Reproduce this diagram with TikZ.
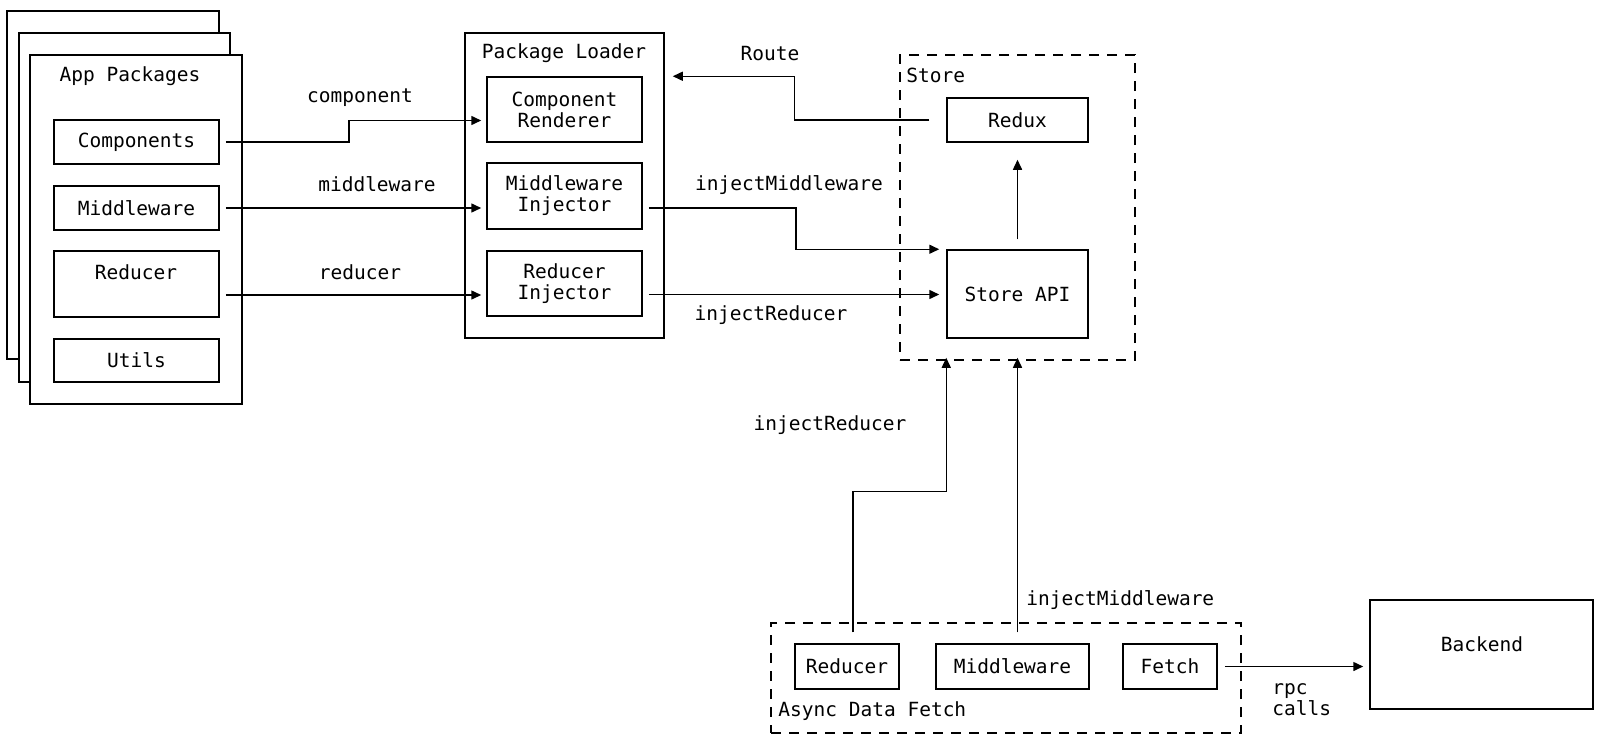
\documentclass[tikz,border=0pt]{standalone}
\usepackage{fontspec}
\setmonofont{DejaVu Sans Mono}
\usetikzlibrary{arrows.meta,calc}
\tikzset{
  box/.style={draw, line width=0.75pt, align=center, inner sep=0pt},
  group/.style={draw, line width=0.75pt, dash pattern=on 5pt off 4pt, inner sep=0pt},
  arr/.style={line width=0.75pt, -{Triangle[length=5pt,width=4.5pt]}},
  txt/.style={inner sep=0pt, align=left}
}
\begin{document}
\begin{tikzpicture}[x=0.5pt,y=-0.5pt,font=\ttfamily\fontsize{9.75}{10.5}\selectfont]
  \useasboundingbox (0,0) rectangle (1600,744);
  % app packages (stacked pages)
  \draw[line width=0.75pt,fill=white] (7,11) rectangle (219,359);
  \draw[line width=0.75pt,fill=white] (19,33) rectangle (230,382);
  \node[box,fill=white,minimum width=106pt,minimum height=174.5pt] (app) at (136,229.5) {};
  \node[txt] (apptitle) at (130,76) {App Packages};
  \node[box,minimum width=82.5pt,minimum height=22pt] (pkcomp) at (136.5,142) {Components};
  \node[box,minimum width=82.5pt,minimum height=22pt] (pkmid) at (136.5,208) {Middleware};
  \node[box,minimum width=82.5pt,minimum height=33pt] (pkred) at (136.5,284) {};
  \node[txt] (pkredtxt) at (136,272) {Reducer};
  \node[box,minimum width=82.5pt,minimum height=21.5pt] (pkutil) at (136.5,360.5) {Utils};

  % package loader
  \node[box,minimum width=99.5pt,minimum height=152.5pt] (loader) at (564.5,185.5) {};
  \node[txt] (loadertitle) at (564,53) {Package Loader};
  \node[box,minimum width=77.5pt,minimum height=32.5pt] (rend) at (564.5,109.5) {Component\\Renderer};
  \node[box,minimum width=77.5pt,minimum height=33pt] (mwinj) at (564.5,196) {Middleware\\Injector};
  \node[box,minimum width=77.5pt,minimum height=32.5pt] (rdinj) at (564.5,283.5) {Reducer\\Injector};

  % store
  \node[group,minimum width=117.5pt,minimum height=152.5pt] (store) at (1017.5,207.5) {};
  \node[txt,anchor=west] (storetitle) at (906,75) {Store};
  \node[box,minimum width=70.5pt,minimum height=22pt] (redux) at (1017.5,120) {Redux};
  \node[box,minimum width=70.5pt,minimum height=44pt] (api) at (1017.5,294) {Store API};

  % async data fetch
  \node[group,minimum width=235pt,minimum height=55pt] (async) at (1006,678) {};
  \node[txt,anchor=west] (asynctitle) at (778,711) {Async Data Fetch};
  \node[box,minimum width=52pt,minimum height=22.5pt] (asred) at (847,666.5) {Reducer};
  \node[box,minimum width=76.5pt,minimum height=22.5pt] (asmid) at (1012.5,666.5) {Middleware};
  \node[box,minimum width=47pt,minimum height=22.5pt] (fetch) at (1170,666.5) {Fetch};

  % backend
  \node[box,minimum width=111.5pt,minimum height=54.5pt] (backend) at (1481.5,654.5) {};
  \node[txt] (backendtxt) at (1482,644) {Backend};

  % connectors
  \draw[arr] ($(pkcomp.east)+(6,0)$) -- ++(123,0) |- ($(rend.west)+(-5,11)$);
  \draw[arr] ($(pkmid.east)+(6,0)$) -- ($(mwinj.west |- pkmid.east)+(-5,0)$);
  \draw[arr] ($(pkred.east)+(6,11)$) -- ($(rdinj.west)+(-5,11.5)$);
  \draw[arr] ($(redux.west)+(-17,0)$) -- ++(-135,0) |- ($(loader.north east)+(8,44)$);
  \draw[arr] ($(mwinj.east)+(6,12)$) -- ++(147,0) |- ($(api.north west)+(-7,0)$);
  \draw[arr] ($(rdinj.east)+(6,11)$) -- ($(api.west)+(-7,0.5)$);
  \draw[arr] ($(api.north)+(0,-10)$) -- ($(redux.south)+(0,17)$);
  \draw[arr] ($(asred.north)+(6,-11)$) -- ++(0,-141) -| ($(api.south west |- store.south)+(0,-3)$);
  \draw[arr] ($(asmid.north)+(5,-11)$) -- ($(api.south |- store.south)+(0,-3)$);
  \draw[arr] ($(fetch.east)+(7,0)$) -- ($(backend.west |- fetch.east)+(-6,0)$);

  % labels
  \node[txt] (lblcomp) at (360,98) {component};
  \node[txt] (lblmid) at (377,184) {middleware};
  \node[txt] (lblred) at (360,272) {reducer};
  \node[txt] (lblroute) at (770,54) {Route};
  \node[txt] (lblinjmw) at (789,185) {injectMiddleware};
  \node[txt] (lblinjred) at (771,315) {injectReducer};
  \node[txt] (lblinjredb) at (830,425) {injectReducer};
  \node[txt,anchor=west] (lblinjmwb) at (1026,600) {injectMiddleware};
  \node[txt,anchor=north west] (lblrpc) at (1272,683) {rpc\\calls};
\end{tikzpicture}
\end{document}
